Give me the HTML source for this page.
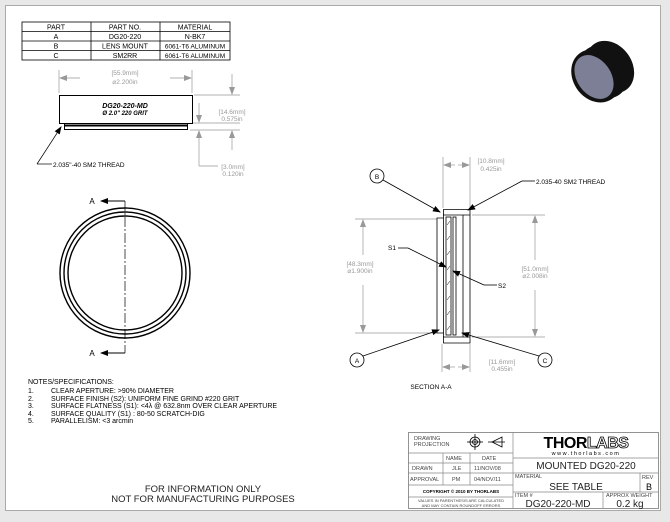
<!DOCTYPE html>
<html><head><style>
body{margin:0;background:#e6e6e6;}
svg{display:block;font-family:"Liberation Sans",sans-serif;}
</style></head><body>
<svg width="670" height="522" viewBox="0 0 670 522" xmlns="http://www.w3.org/2000/svg">
<defs>
<marker id="ar" markerWidth="8" markerHeight="6" refX="7" refY="3" orient="auto" markerUnits="userSpaceOnUse"><path d="M0,0 L8,3 L0,6z" fill="#999"/></marker>
<marker id="ak" markerWidth="8" markerHeight="6" refX="7" refY="3" orient="auto" markerUnits="userSpaceOnUse"><path d="M0,0 L8,3 L0,6z" fill="#000"/></marker>
</defs>
<rect x="0" y="0" width="670" height="522" fill="#e8e8e8"/>
<rect x="5.5" y="5.5" width="655" height="505" fill="#fff" stroke="#aaa"/>
<!-- table -->
<g stroke="#000" stroke-width="0.8" fill="none">
<rect x="22" y="22" width="208" height="38"/>
<line x1="22" y1="31.5" x2="230" y2="31.5"/><line x1="22" y1="41" x2="230" y2="41"/><line x1="22" y1="50.5" x2="230" y2="50.5"/>
<line x1="91" y1="22" x2="91" y2="60"/><line x1="160" y1="22" x2="160" y2="60"/>
</g>
<g font-size="7" text-anchor="middle" fill="#000">
<text x="56" y="29.5">PART</text><text x="125" y="29.5">PART NO.</text><text x="195" y="29.5">MATERIAL</text>
<text x="56" y="39">A</text><text x="125" y="39">DG20-220</text><text x="195" y="39">N-BK7</text>
<text x="56" y="48.5">B</text><text x="125" y="48.5">LENS MOUNT</text><text x="195" y="48.5" font-size="6.5">6061-T6 ALUMINUM</text>
<text x="56" y="58">C</text><text x="125" y="58">SM2RR</text><text x="195" y="58" font-size="6.5">6061-T6 ALUMINUM</text>
</g>
<!-- front view -->
<g stroke="#999" stroke-width="0.7" fill="none">
<line x1="59" y1="70" x2="59" y2="93"/><line x1="192" y1="70" x2="192" y2="93"/>
<line x1="80" y1="78" x2="60" y2="78" marker-end="url(#ar)"/><line x1="170" y1="78" x2="191" y2="78" marker-end="url(#ar)"/>
<line x1="194" y1="95" x2="240" y2="95"/><line x1="190" y1="123" x2="240" y2="123"/><line x1="190" y1="130" x2="240" y2="130"/>
<line x1="232" y1="74" x2="232" y2="94" marker-end="url(#ar)"/>
<line x1="199" y1="103" x2="199" y2="122" marker-end="url(#ar)"/>
<line x1="199" y1="145" x2="199" y2="131" marker-end="url(#ar)"/>
<line x1="232" y1="150" x2="232" y2="131" marker-end="url(#ar)"/>
<line x1="199" y1="145" x2="199" y2="166"/><line x1="199" y1="166" x2="218" y2="166"/>
</g>
<g fill="#999" font-size="6.5" text-anchor="middle">
<text x="125" y="75">[55.9mm]</text><text x="125" y="84">⌀2.200in</text>
<text x="232" y="114">[14.6mm]</text><text x="232" y="121">0.575in</text>
<text x="233" y="169">[3.0mm]</text><text x="233" y="176">0.120in</text>
</g>
<rect x="59.5" y="95.5" width="133" height="28" fill="#fff" stroke="#000"/>
<rect x="64.5" y="123.5" width="123" height="6" fill="#fff" stroke="#000"/>
<line x1="65" y1="125.5" x2="187" y2="125.5" stroke="#000" stroke-width="2"/>
<text x="125" y="108" font-size="7" font-weight="bold" text-anchor="middle" font-style="italic">DG20-220-MD</text>
<text x="125" y="115" font-size="6" font-weight="bold" text-anchor="middle" font-style="italic">Ø 2.0" 220 GRIT</text>
<line x1="37" y1="164" x2="61" y2="127" stroke="#000" stroke-width="0.7" marker-end="url(#ak)"/>
<line x1="37" y1="164" x2="52" y2="164" stroke="#000" stroke-width="0.7"/>
<text x="53" y="167" font-size="6.5">2.035"-40 SM2 THREAD</text>
<!-- circle view -->
<g stroke="#000" fill="none" stroke-width="1.4">
<circle cx="125" cy="273" r="65"/><circle cx="125" cy="273" r="61"/><circle cx="125" cy="273" r="57"/>
<line x1="125" y1="201" x2="125" y2="353" stroke-dasharray="10,2,2,2" stroke-width="0.7"/>
<line x1="125" y1="201" x2="101" y2="201" marker-end="url(#ak)" stroke-width="1"/>
<line x1="125" y1="353" x2="101" y2="353" marker-end="url(#ak)" stroke-width="1"/>
</g>
<text x="92" y="204" font-size="8" text-anchor="middle">A</text>
<text x="92" y="356" font-size="8" text-anchor="middle">A</text>
<!-- notes -->
<g font-size="7" fill="#000">
<text x="28" y="384">NOTES/SPECIFICATIONS:</text>
<text x="28" y="393">1.</text><text x="51" y="393">CLEAR APERTURE: &gt;90% DIAMETER</text>
<text x="28" y="401">2.</text><text x="51" y="401">SURFACE FINISH (S2): UNIFORM FINE GRIND #220 GRIT</text>
<text x="28" y="408">3.</text><text x="51" y="408">SURFACE FLATNESS (S1): &lt;4λ @ 632.8nm OVER CLEAR APERTURE</text>
<text x="28" y="416">4.</text><text x="51" y="416">SURFACE QUALITY (S1) : 80-50 SCRATCH-DIG</text>
<text x="28" y="423">5.</text><text x="51" y="423">PARALLELISM: &lt;3 arcmin</text>
</g>
<g font-size="9.5" text-anchor="middle" fill="#222">
<text x="203" y="492">FOR INFORMATION ONLY</text>
<text x="203" y="502">NOT FOR MANUFACTURING PURPOSES</text>
</g>
<!-- photo -->
<g fill="#111">
<ellipse cx="596" cy="76" rx="23" ry="28" transform="rotate(-35 596 76)"/>
<ellipse cx="603" cy="72" rx="23" ry="28" transform="rotate(-35 603 72)"/>
<ellipse cx="610" cy="67" rx="22" ry="28" transform="rotate(-35 610 67)"/>
</g>
<ellipse cx="594" cy="77" rx="17" ry="24" transform="rotate(-35 594 77)" fill="#7c7f95"/>
<!-- section view -->
<g stroke="#999" stroke-width="0.7" fill="none">
<line x1="443" y1="157" x2="443" y2="208"/><line x1="470" y1="157" x2="470" y2="208"/>
<line x1="455" y1="165" x2="444" y2="165" marker-end="url(#ar)"/><line x1="458" y1="165" x2="469" y2="165" marker-end="url(#ar)"/>
<line x1="355" y1="219" x2="437" y2="219"/><line x1="355" y1="333" x2="437" y2="333"/>
<line x1="363" y1="255" x2="363" y2="220" marker-end="url(#ar)"/><line x1="363" y1="285" x2="363" y2="332" marker-end="url(#ar)"/>
<line x1="472" y1="215" x2="545" y2="215"/><line x1="472" y1="337" x2="545" y2="337"/>
<line x1="535" y1="260" x2="535" y2="216" marker-end="url(#ar)"/><line x1="535" y1="290" x2="535" y2="336" marker-end="url(#ar)"/>
<line x1="442" y1="344" x2="442" y2="372"/><line x1="470" y1="344" x2="470" y2="372"/>
<line x1="455" y1="367" x2="443" y2="367" marker-end="url(#ar)"/><line x1="458" y1="367" x2="469" y2="367" marker-end="url(#ar)"/>
</g>
<g fill="#999" font-size="6.5" text-anchor="middle">
<text x="491" y="163">[10.8mm]</text><text x="491" y="171">0.425in</text>
<text x="360" y="266">[48.3mm]</text><text x="360" y="273">⌀1.900in</text>
<text x="535" y="271">[51.0mm]</text><text x="535" y="278">⌀2.008in</text>
<text x="502" y="364">[11.6mm]</text><text x="502" y="371">0.455in</text>
</g>
<g stroke="#000" fill="none" stroke-width="0.8">
<path d="M443.5,209.5 H470 V343 H443.5 V333 H437 V218 H443.5Z"/>
<line x1="443.5" y1="218" x2="443.5" y2="333"/>
<rect x="446" y="217" width="5" height="118"/>
<rect x="453" y="217" width="3" height="118"/>
<line x1="443" y1="215" x2="470" y2="215"/><line x1="443" y1="337" x2="470" y2="337"/>
<line x1="463" y1="215" x2="463" y2="337"/>
<path d="M447,225 l3,-4 M447,240 l3,-4 M447,255 l3,-4 M447,270 l3,-4 M447,285 l3,-4 M447,300 l3,-4 M447,315 l3,-4 M447,330 l3,-4" stroke-width="0.5"/>
<circle cx="377" cy="176" r="7"/><circle cx="357" cy="360" r="7"/><circle cx="545" cy="360" r="7"/>
<line x1="383" y1="180" x2="440" y2="212" marker-end="url(#ak)"/>
<line x1="363" y1="356" x2="439" y2="330" marker-end="url(#ak)"/>
<line x1="539" y1="356" x2="462" y2="333" marker-end="url(#ak)"/>
<line x1="522" y1="181" x2="468" y2="210" marker-end="url(#ak)"/>
<line x1="522" y1="181" x2="535" y2="181"/>
<line x1="398" y1="248" x2="408" y2="248"/><line x1="408" y1="248" x2="446" y2="267" marker-end="url(#ak)"/>
<line x1="497" y1="285" x2="484" y2="285"/><line x1="484" y1="285" x2="453" y2="271" marker-end="url(#ak)"/>
</g>
<g font-size="6.5" fill="#000" text-anchor="middle">
<text x="377" y="179">B</text><text x="357" y="363">A</text><text x="545" y="363">C</text>
<text x="392" y="250">S1</text><text x="502" y="288">S2</text>
<text x="431" y="389">SECTION A-A</text>
</g>
<text x="536" y="184" font-size="6.5">2.035-40 SM2 THREAD</text>
<!-- title block -->
<g stroke="#888" stroke-width="0.7" fill="none">
<rect x="408.5" y="432.5" width="250" height="76" stroke="#666"/>
<line x1="513" y1="432" x2="513" y2="508"/>
<line x1="408" y1="453" x2="513" y2="453"/><line x1="408" y1="463" x2="513" y2="463"/><line x1="408" y1="473" x2="513" y2="473"/>
<line x1="408" y1="485" x2="513" y2="485"/><line x1="408" y1="497" x2="513" y2="497"/>
<line x1="443" y1="453" x2="443" y2="485"/><line x1="470" y1="453" x2="470" y2="485"/>
<line x1="513" y1="458" x2="658" y2="458"/><line x1="513" y1="473" x2="658" y2="473"/><line x1="513" y1="492" x2="658" y2="492"/>
<line x1="640" y1="473" x2="640" y2="492"/><line x1="603" y1="492" x2="603" y2="508"/>
</g>
<g stroke="#000" fill="none" stroke-width="0.8">
<circle cx="475" cy="442" r="5"/><circle cx="475" cy="442" r="2.5"/>
<line x1="467" y1="442" x2="483" y2="442"/><line x1="475" y1="434" x2="475" y2="450"/>
<path d="M492,442 L502,437 V447Z"/><line x1="488" y1="442" x2="505" y2="442"/>
</g>
<g font-size="5.5" fill="#444">
<text x="414" y="440">DRAWING</text><text x="414" y="446">PROJECTION</text>
<text x="446" y="460">NAME</text><text x="482" y="460">DATE</text>
<text x="412" y="470">DRAWN</text><text x="452" y="470">JLE</text><text x="474" y="470">11/NOV/08</text>
<text x="410" y="481">APPROVAL</text><text x="452" y="481">PM</text><text x="474" y="481">04/NOV/11</text>
<text x="515" y="478">MATERIAL</text><text x="642" y="479">REV</text>
<text x="515" y="497">ITEM #</text><text x="606" y="497">APPROX WEIGHT</text>
</g>
<text x="461" y="493" font-size="4.5" font-weight="bold" text-anchor="middle">COPYRIGHT © 2010 BY THORLABS</text>
<text x="461" y="502" font-size="4" text-anchor="middle" fill="#444">VALUES IN PARENTHESIS ARE CALCULATED</text>
<text x="461" y="507" font-size="4" text-anchor="middle" fill="#444">AND MAY CONTAIN ROUNDOFF ERRORS</text>
<text x="586" y="448" font-size="16" font-weight="bold" text-anchor="middle" letter-spacing="-0.5">THOR<tspan fill="#fff" stroke="#000" stroke-width="0.8">LABS</tspan></text>
<text x="586" y="455" font-size="5.5" text-anchor="middle" letter-spacing="1.5">www.thorlabs.com</text>
<text x="586" y="469" font-size="10" text-anchor="middle" fill="#222">MOUNTED DG20-220</text>
<text x="576" y="490" font-size="10" text-anchor="middle" fill="#222">SEE TABLE</text>
<text x="649" y="490" font-size="9" text-anchor="middle">B</text>
<text x="558" y="507" font-size="10" text-anchor="middle" fill="#222">DG20-220-MD</text>
<text x="630" y="507" font-size="10" text-anchor="middle" fill="#222">0.2 kg</text>
</svg>
</body></html>
